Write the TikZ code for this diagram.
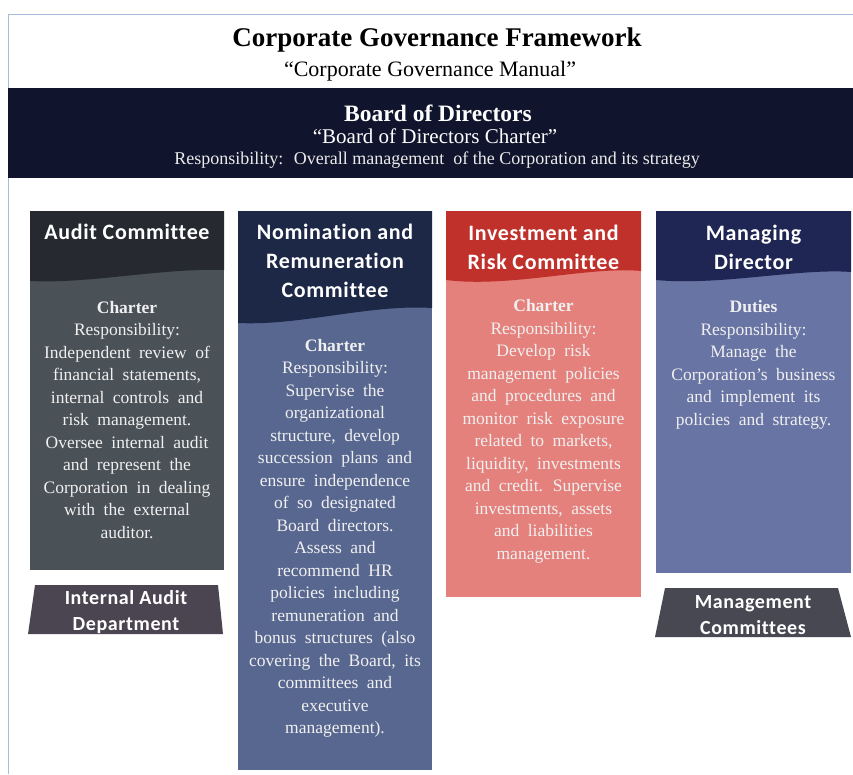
\documentclass[tikz,border=0pt]{standalone}
\usepackage{fontspec}
\setmainfont{Liberation Serif}
\newfontfamily\calibrifont[LetterSpace=3,Ligatures=NoCommon]{Carlito}

\definecolor{framecol}{HTML}{A9BDD8}
\definecolor{boardnavy}{HTML}{10142C}
\definecolor{audithead}{HTML}{262A30}
\definecolor{auditbody}{HTML}{4A5157}
\definecolor{nomhead}{HTML}{1D2847}
\definecolor{nombody}{HTML}{58678F}
\definecolor{invhead}{HTML}{C0312C}
\definecolor{invbody}{HTML}{E5817C}
\definecolor{mdhead}{HTML}{1F2653}
\definecolor{mdbody}{HTML}{6874A3}
\definecolor{iadcol}{HTML}{4B4551}
\definecolor{mccol}{HTML}{484853}

\tikzset{
  headtext/.style={text=white, align=center, inner sep=0pt,
    font=\calibrifont\bfseries\fontsize{22}{29}\selectfont},
  bodytext/.style={text=white!94!black, align=center, inner sep=0pt,
    font=\fontsize{17.5}{22.5}\selectfont,
    execute at begin node={\spaceskip=8.5pt\relax}},
  tabtext/.style={text=white, align=center, inner sep=0pt,
    font=\calibrifont\bfseries\fontsize{20}{26}\selectfont},
}

\begin{document}
\begin{tikzpicture}[x=1pt,y=-1pt]
  \useasboundingbox (0,0) rectangle (853,774);
  \fill[white] (0,0) rectangle (853,774);
  % frame
  \draw[framecol, line width=0.8pt] (8,774) -- (8,14) -- (853,14);

  % title
  \node[font=\bfseries\fontsize{27}{30}\selectfont] (title) at (437,40) {Corporate Governance Framework};
  \node[font=\fontsize{22}{24}\selectfont] (manual) at (430,71) {``Corporate Governance Manual''};

  % board band
  \fill[boardnavy] (8,88) rectangle (853,178);
  \node[text=white, font=\bfseries\fontsize{23.5}{26}\selectfont] (board) at (438,113) {Board of Directors};
  \node[text=white, font=\fontsize{21}{23}\selectfont] (boardcharter) at (435,136) {``Board of Directors Charter''};
  \node[text=white!92!black, font=\fontsize{18}{20}\selectfont] (boardresp) at (437,160) {Responsibility: \ Overall management \ of the Corporation and its strategy};

  % audit committee
  \fill[auditbody] (30,211) rectangle (224,570);
  \fill[audithead] (30,211) -- (224,211) -- (224,270) .. controls (160,268) and (90,284) .. (30,281) -- cycle;
  \node[headtext] (audit) at (127,232) {Audit Committee};
  \node[bodytext] (auditcharter) at (127,420) {\textbf{Charter}\\ Responsibility:\\ Independent review of\\ financial statements,\\ internal controls and\\ risk management.\\ Oversee internal audit\\ and represent the\\ Corporation in dealing\\ with the external\\ auditor.};
  \fill[iadcol] (35,585) -- (218,585) -- (223,634) -- (28,634) -- cycle;
  \node[tabtext] (iad) at (126,612) {Internal Audit\\ Department};

  % nomination and remuneration
  \fill[nombody] (238,211) rectangle (432,770);
  \fill[nomhead] (238,211) -- (432,211) -- (432,308) .. controls (370,304) and (300,326) .. (238,323) -- cycle;
  \node[headtext] (nomination) at (335,260.5) {Nomination and\\ Remuneration\\ Committee};
  \node[bodytext] (nomcharter) at (335,538.5) {\textbf{Charter}\\ Responsibility:\\ Supervise the\\ organizational\\ structure, develop\\ succession plans and\\ ensure independence\\ of so designated\\ Board directors.\\ Assess and\\ recommend HR\\ policies including\\ remuneration and\\ bonus structures (also\\ covering the Board, its\\ committees and\\ executive\\ management).};

  % investment and risk
  \fill[invbody] (446,211) rectangle (641,597);
  \fill[invhead] (446,211) -- (641,211) -- (641,271) .. controls (590,266) and (510,288) .. (446,280) -- cycle;
  \node[headtext] (investment) at (543.5,247) {Investment and\\ Risk Committee};
  \node[bodytext] (invcharter) at (543.5,431.5) {\textbf{Charter}\\ Responsibility:\\ Develop risk\\ management policies\\ and procedures and\\ monitor risk exposure\\ related to markets,\\ liquidity, investments\\ and credit. Supervise\\ investments, assets\\ and liabilities\\ management.};

  % managing director
  \fill[mdbody] (656,211) rectangle (851,573);
  \fill[mdhead] (656,211) -- (851,211) -- (851,272) .. controls (800,268) and (720,286) .. (656,280) -- cycle;
  \node[headtext] (md) at (753.5,247) {Managing\\ Director};
  \node[bodytext] (mdduties) at (753.5,365) {\textbf{Duties}\\ Responsibility:\\ Manage the\\ Corporation's business\\ and implement its\\ policies and strategy.};
  \fill[mccol] (665,588) -- (838,588) -- (851,637) -- (655,637) -- cycle;
  \node[tabtext] (mc) at (753,615) {Management\\ Committees};
\end{tikzpicture}
\end{document}
